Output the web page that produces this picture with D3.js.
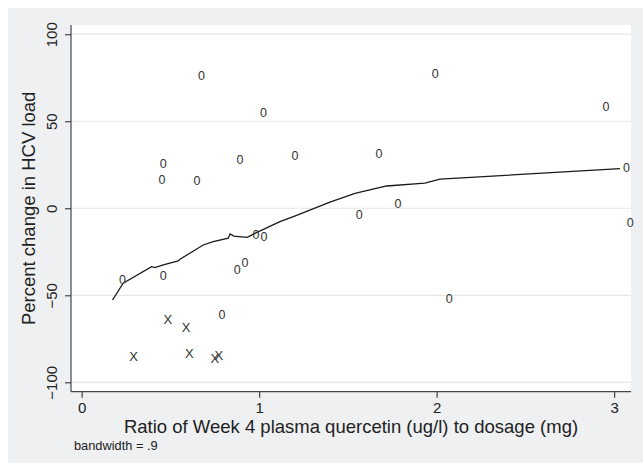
<!DOCTYPE html>
<html>
<head>
<meta charset="utf-8">
<script src="https://cdn.jsdelivr.net/npm/d3@7"></script>
<style>
  body { margin: 0; background: #fff; }
  svg { opacity: 0.999; }
  text { font-family: "Liberation Sans", Arial, sans-serif; }
</style>
</head>
<body>
<svg id="chart"></svg>
<script>
// "0" group markers
const zeroX = [0.23, 0.46, 0.459, 0.453, 0.65, 0.675, 0.892, 1.025, 1.202, 0.982, 1.027,
               0.876, 0.92, 0.79, 1.992, 2.954, 1.675, 3.07, 1.782, 1.564, 3.091, 2.071];
const zeroY = [-41, -38.5, 26, 16.3, 16, 76.2, 27.9, 55.1, 30.4, -15.3, -16.3,
               -35.3, -31.3, -61, 77.2, 58.4, 31.2, 23.7, 2.5, -3.3, -8.3, -52.1];

// "X" group markers
const crossX = [0.486, 0.588, 0.292, 0.606, 0.751, 0.773];
const crossY = [-63.8, -68.4, -85.3, -83.3, -86.2, -84.3];

// lowess smooth
const lowessX = [0.174, 0.234, 0.394, 0.413, 0.46, 0.544, 0.554, 0.685, 0.741, 0.826, 0.836,
                 0.858, 0.933, 0.976, 1.117, 1.2, 1.399, 1.512, 1.54, 1.718, 1.934, 2.019, 3.033];
const lowessY = [-52.7, -43.1, -33.6, -34.1, -32.5, -30.3, -29.3, -21.1, -19.2, -17.2, -14.8,
                 -16, -16.7, -14.4, -7.7, -4.5, 3.5, 7.6, 8.6, 12.8, 14.4, 16.7, 22.8];

const xTicks = [0, 1, 2, 3];
const yTicks = [-100, -50, 0, 50, 100];

const width = 643;
const height = 468;
const plot = { left: 71, right: 631, top: 25, bottom: 391.7 };

const svg = d3.select("#chart")
    .attr("width", width)
    .attr("height", height);

// graph region
svg.append("rect")
    .attr("x", 8).attr("y", 8)
    .attr("width", width - 8).attr("height", 455)
    .attr("fill", "#eef0f2");

// plot region
svg.append("rect")
    .attr("x", plot.left).attr("y", plot.top)
    .attr("width", plot.right - plot.left).attr("height", plot.bottom - plot.top)
    .attr("fill", "#fff");

const xScale = d3.scaleLinear().domain([-0.06, 3.095]).range([plot.left, plot.right]);
const yScale = d3.scaleLinear().domain([-105.4, 105.3]).range([plot.bottom, plot.top]);

// grid
svg.append("g")
    .selectAll("line")
    .data(yTicks)
    .join("line")
    .attr("x1", plot.left).attr("x2", plot.right)
    .attr("y1", d => yScale(d)).attr("y2", d => yScale(d))
    .attr("stroke", "#e6e6e6")
    .attr("stroke-width", 1.2);

// axes
const yAxis = svg.append("g")
    .attr("transform", `translate(${plot.left},0)`)
    .call(d3.axisLeft(yScale).tickValues(yTicks).tickSize(6).tickSizeOuter(0).tickFormat(d3.format("d")));
yAxis.select(".domain").attr("d", `M0,${plot.top}V${plot.bottom}`);
yAxis.selectAll(".tick text")
    .attr("transform", "rotate(-90)")
    .attr("x", 0).attr("y", -14).attr("dy", 0)
    .attr("text-anchor", "middle")
    .attr("font-size", 15)
    .attr("font-family", null)
    .attr("fill", "#222");

const xAxis = svg.append("g")
    .attr("transform", `translate(0,${plot.bottom})`)
    .call(d3.axisBottom(xScale).tickValues(xTicks).tickSize(6).tickSizeOuter(0).tickFormat(d3.format("d")));
xAxis.select(".domain").attr("d", `M${plot.left},0H${plot.right}`);
xAxis.selectAll(".tick text")
    .attr("y", 21.8).attr("dy", 0)
    .attr("font-size", 15)
    .attr("font-family", null)
    .attr("fill", "#222");

svg.selectAll(".domain, .tick line").attr("stroke", "#444").attr("stroke-width", 1.2);

// axis titles
svg.append("text")
    .attr("transform", `translate(35,${(plot.top + plot.bottom) / 2}) rotate(-90)`)
    .attr("text-anchor", "middle")
    .attr("font-size", 18.5)
    .attr("fill", "#222")
    .text("Percent change in HCV load");

svg.append("text")
    .attr("x", (plot.left + plot.right) / 2)
    .attr("y", 432.5)
    .attr("text-anchor", "middle")
    .attr("font-size", 18.5)
    .attr("fill", "#222")
    .text("Ratio of Week 4 plasma quercetin (ug/l) to dosage (mg)");

svg.append("text")
    .attr("x", 74)
    .attr("y", 449.5)
    .attr("font-size", 12.8)
    .attr("fill", "#222")
    .text("bandwidth = .9");

// lowess line
const line = d3.line()
    .x(i => xScale(lowessX[i]))
    .y(i => yScale(lowessY[i]));

svg.append("path")
    .attr("d", line(d3.range(lowessX.length)))
    .attr("fill", "none")
    .attr("stroke", "#1a1a1a")
    .attr("stroke-width", 1.3);

// markers
svg.append("g")
    .selectAll("text")
    .data(d3.range(zeroX.length))
    .join("text")
    .attr("x", i => xScale(zeroX[i]))
    .attr("y", i => yScale(zeroY[i]))
    .attr("dy", "0.36em")
    .attr("text-anchor", "middle")
    .attr("font-size", 12.5)
    .attr("fill", "#333")
    .text("0");

svg.append("g")
    .selectAll("text")
    .data(d3.range(crossX.length))
    .join("text")
    .attr("x", i => xScale(crossX[i]))
    .attr("y", i => yScale(crossY[i]))
    .attr("dy", "0.36em")
    .attr("text-anchor", "middle")
    .attr("font-size", 13)
    .attr("fill", "#333")
    .text("X");
</script>
</body>
</html>
